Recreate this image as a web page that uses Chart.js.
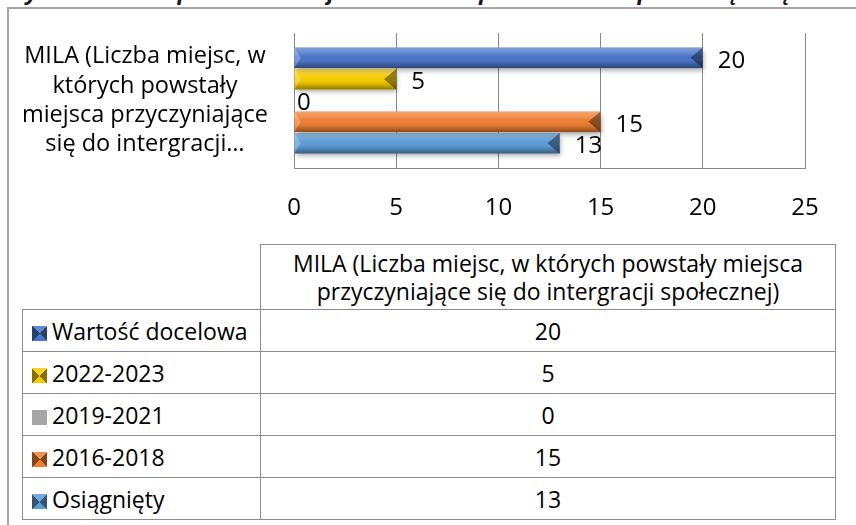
<!DOCTYPE html>
<html lang="pl">
<head>
  <meta charset="UTF-8">
  <title>Wykres 11. Stopień realizacji wskaźnika produktu</title>
  <script src="https://cdn.jsdelivr.net/npm/chart.js"></script>
  <style>
    html, body { margin: 0; padding: 0; background: #fff; }
    body { width: 856px; height: 525px; position: relative; overflow: hidden; font-family: "Open Sans", sans-serif; }
    #title { position: absolute; left: 2px; top: -23px; white-space: nowrap; font: italic bold 25px "Liberation Sans", Arial, sans-serif; color: #1a1a1a; }
    #frame { position: absolute; left: 7px; top: 7px; width: 900px; height: 600px; border-left: 2px solid #a6a6a6; border-top: 2px solid #a6a6a6; }
    #chartBox { position: absolute; left: 0; top: 0; }
    #dataTable { position: absolute; left: 22px; top: 244px; border-collapse: collapse; font-size: 23px; color: #000; table-layout: fixed; }
    #dataTable td, #dataTable th { border: 1px solid #8c8c8c; padding: 0; font-weight: normal; }
    #dataTable th.corner { border: none; }
    #dataTable th.head { height: 64px; line-height: 28px; text-align: center; padding: 0 4px; }
    #dataTable td { height: 41px; }
    #dataTable td.name { padding-left: 9px; white-space: nowrap; }
    #dataTable td.val { text-align: center; }
    .key { display: inline-block; width: 15px; height: 15px; margin-right: 5px; vertical-align: -1px; }
  </style>
</head>
<body>
  <div id="title">Wykres 11. Stopień realizacji wskaźnika produktu dla przedsięwzięcia MILA</div>
  <div id="frame"></div>
  <canvas id="chartBox" width="856" height="235"></canvas>
  <table id="dataTable">
    <colgroup><col style="width:238px"><col style="width:575px"></colgroup>
    <thead><tr><th class="corner"></th><th class="head" id="headCell"></th></tr></thead>
    <tbody></tbody>
  </table>

  <script>
    // data
    const seriesNames = ['Wartość docelowa', '2022-2023', '2019-2021', '2016-2018', 'Osiągnięty'];
    const seriesValues = [20, 5, 0, 15, 13];
    const seriesColors = ['#4a74c8', '#f5cb00', '#a5a5a5', '#ed7d31', '#5b9bd5'];
    const categoryName = 'MILA (Liczba miejsc, w których powstały miejsca przyczyniające się do intergracji społecznej)';
    const categoryLines = ['MILA (Liczba miejsc, w', 'których powstały', 'miejsca przyczyniające', 'się do intergracji…'];
    const xTicks = [0, 5, 10, 15, 20, 25];

    // === data table under the chart ===
    document.getElementById('headCell').textContent = categoryName;
    const tbody = document.querySelector('#dataTable tbody');
    seriesNames.forEach((name, i) => {
      const c = seriesColors[i];
      const dark = `color-mix(in srgb, ${c} 55%, black)`;
      const light = `color-mix(in srgb, ${c} 85%, white)`;
      const keyBg = c === '#a5a5a5' ? c :
        `conic-gradient(from -45deg, ${light} 0 90deg, ${dark} 90deg 180deg, ${c} 180deg 270deg, ${dark} 270deg 360deg)`;
      const tr = document.createElement('tr');
      tr.innerHTML = `
        <td class="name"><span class="key" style="background:${keyBg}"></span>${name}</td>
        <td class="val">${seriesValues[i]}</td>`;
      tbody.appendChild(tr);
    });

    // shadow + bevel look of the bars
    const bevelBars = {
      id: 'bevelBars',
      beforeDatasetsDraw(chart) {
        const ctx = chart.ctx;
        ctx.save();
        ctx.shadowColor = 'rgba(0,0,0,0.35)';
        ctx.shadowBlur = 5;
        ctx.shadowOffsetX = 1;
        ctx.shadowOffsetY = 3;
      },
      afterDatasetsDraw(chart) {
        const ctx = chart.ctx;
        ctx.restore();
        ctx.save();
        chart.data.datasets.forEach((ds, i) => {
          chart.getDatasetMeta(i).data.forEach(bar => {
            const p = bar.getProps(['x', 'y', 'base', 'height'], true);
            const left = Math.min(p.x, p.base), right = Math.max(p.x, p.base);
            const top = p.y - p.height / 2, bottom = p.y + p.height / 2;
            if (right - left < 1) return;
            const g = ctx.createLinearGradient(0, top, 0, bottom);
            g.addColorStop(0, 'rgba(255,255,255,0.30)');
            g.addColorStop(0.22, 'rgba(255,255,255,0.18)');
            g.addColorStop(0.45, 'rgba(255,255,255,0)');
            g.addColorStop(0.75, 'rgba(0,0,0,0.12)');
            g.addColorStop(1, 'rgba(0,0,0,0.40)');
            ctx.fillStyle = g;
            ctx.fillRect(left, top, right - left, bottom - top);
            const b = p.height * 0.6;
            // right end facet
            ctx.fillStyle = 'rgba(0,0,0,0.4)';
            ctx.beginPath();
            ctx.moveTo(right, top);
            ctx.lineTo(right, bottom);
            ctx.lineTo(right - b, p.y);
            ctx.closePath();
            ctx.fill();
            // left end facet
            ctx.fillStyle = 'rgba(255,255,255,0.25)';
            ctx.beginPath();
            ctx.moveTo(left, top);
            ctx.lineTo(left, bottom);
            ctx.lineTo(left + b * 0.5, p.y);
            ctx.closePath();
            ctx.fill();
          });
        });
        ctx.restore();
      }
    };

    const valueLabels = {
      id: 'valueLabels',
      afterDatasetsDraw(chart) {
        const ctx = chart.ctx;
        ctx.save();
        ctx.font = '24px "Open Sans"';
        ctx.fillStyle = '#000';
        ctx.textBaseline = 'middle';
        ctx.textAlign = 'left';
        chart.data.datasets.forEach((ds, i) => {
          chart.getDatasetMeta(i).data.forEach((bar, j) => {
            const v = ds.data[j];
            ctx.fillText(String(v), bar.x + (v === 0 ? 3 : 15), bar.y + 3);
          });
        });
        ctx.restore();
      }
    };

    new Chart(document.getElementById('chartBox'), {
      type: 'bar',
      data: {
        labels: [categoryLines],
        datasets: seriesNames.map((name, i) => ({
          label: name,
          data: [seriesValues[i]],
          backgroundColor: seriesColors[i],
          categoryPercentage: 0.79,
          barPercentage: 0.96
        }))
      },
      options: {
        indexAxis: 'y',
        responsive: false,
        animation: false,
        layout: { padding: { top: 33, right: 51, left: 0, bottom: 0 } },
        plugins: { legend: { display: false }, tooltip: { enabled: false } },
        scales: {
          x: {
            min: 0, max: 25,
            afterBuildTicks: s => { s.ticks = xTicks.map(v => ({ value: v })); },
            afterFit: s => { s.height = 67; s.paddingLeft = 0; s.paddingRight = 0; },
            grid: { color: '#888', lineWidth: 1, drawTicks: false },
            border: { color: '#888' },
            ticks: { padding: 26, color: '#000', font: { family: 'Open Sans', size: 24 } }
          },
          y: {
            afterFit: s => { s.width = 294; s.paddingTop = 0; s.paddingBottom = 0; },
            grid: { display: false, drawTicks: false },
            border: { display: false },
            ticks: {
              crossAlign: 'center',
              padding: 26,
              color: '#000',
              font: { family: 'Open Sans', size: 23.5, lineHeight: 1.25 }
            }
          }
        }
      },
      plugins: [bevelBars, valueLabels]
    });
  </script>
</body>
</html>
